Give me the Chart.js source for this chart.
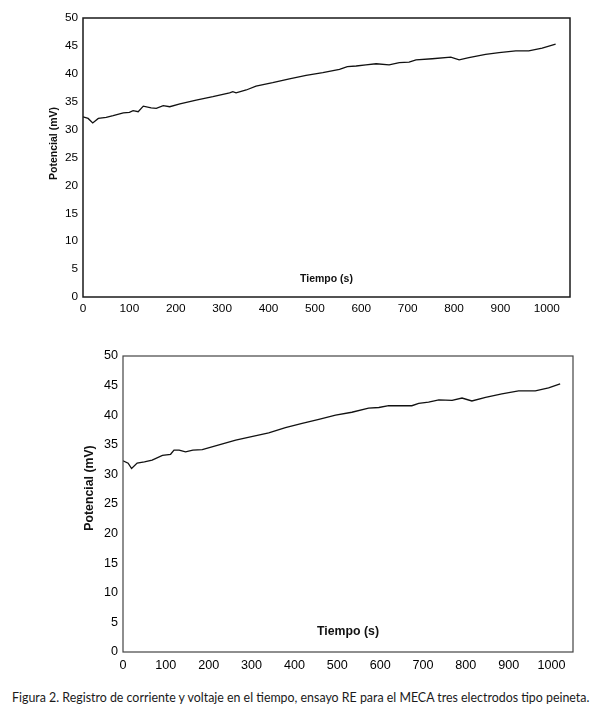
<!DOCTYPE html>
<html>
<head>
<meta charset="utf-8">
<script src="https://cdn.jsdelivr.net/npm/chart.js@4.4.1/dist/chart.umd.min.js"></script>
<style>
  body { margin: 0; background: #fff; width: 601px; height: 717px; position: relative; overflow: hidden; }
  canvas { position: absolute; left: 0; }
  #caption { position: absolute; left: 12px; top: 690px; font-family: Lato, "Open Sans", sans-serif; font-size: 12.4px; color: #1a1a1a; white-space: nowrap; }
</style>
</head>
<body>
<canvas id="chartTop" width="601" height="330" style="top:0"></canvas>
<canvas id="chartBottom" width="601" height="350" style="top:330px"></canvas>
<div id="caption">Figura 2. Registro de corriente y voltaje en el tiempo, ensayo RE para el MECA tres electrodos tipo peineta.</div>
<script>
// upper chart (s, mV)
const timeTop = [0, 11, 21, 33, 50, 65, 87, 100, 108, 119, 130, 147, 158, 173, 187, 209, 244, 280, 316, 323, 330, 352, 373, 409, 445, 481, 517, 553, 570, 589, 610, 632, 660, 682, 703, 718, 753, 793, 811, 832, 868, 897, 933, 961, 990, 1019]
const potTop = [32.3, 32.0, 31.2, 32.0, 32.2, 32.5, 33.0, 33.1, 33.4, 33.2, 34.2, 33.9, 33.8, 34.3, 34.1, 34.6, 35.3, 35.9, 36.6, 36.8, 36.6, 37.1, 37.8, 38.4, 39.1, 39.7, 40.2, 40.8, 41.3, 41.4, 41.6, 41.8, 41.6, 42.0, 42.1, 42.5, 42.7, 43.0, 42.5, 42.9, 43.5, 43.8, 44.1, 44.1, 44.6, 45.3]

// lower chart (s, mV)
const timeBottom = [0, 12, 20, 33, 50, 68, 92, 111, 119, 131, 146, 163, 185, 224, 263, 300, 340, 379, 418, 457, 496, 534, 573, 597, 620, 651, 674, 690, 713, 737, 768, 791, 814, 846, 884, 923, 962, 993, 1020]
const potBottom = [32.3, 31.9, 31.0, 31.9, 32.1, 32.4, 33.2, 33.4, 34.1, 34.1, 33.8, 34.1, 34.2, 35.0, 35.8, 36.4, 37.0, 37.9, 38.6, 39.3, 40.0, 40.5, 41.2, 41.3, 41.6, 41.6, 41.6, 42.0, 42.2, 42.6, 42.5, 42.9, 42.4, 43.0, 43.6, 44.1, 44.1, 44.6, 45.3]

const xTicks = [0, 100, 200, 300, 400, 500, 600, 700, 800, 900, 1000]
const xTitle = 'Tiempo (s)'
const yTitle = 'Potencial (mV)'

const framePlugin = {
    id: 'frame',
    afterDraw (chart, args, o) {
        const { ctx, chartArea: a } = chart
        ctx.save()
        ctx.strokeStyle = o.color
        ctx.lineWidth = o.width
        ctx.strokeRect(a.left, a.top, a.right - a.left, a.bottom - a.top)
        ctx.fillStyle = '#111'
        ctx.font = 'bold ' + o.titleSize + 'px "Liberation Sans", Arial, sans-serif'
        ctx.textAlign = 'center'
        ctx.textBaseline = 'middle'
        ctx.fillText(xTitle, (a.left + a.right) / 2, a.bottom - o.xTitleUp)
        ctx.translate(a.left - o.yTitleLeft, (a.top + a.bottom) / 2 - o.yTitleUp)
        ctx.rotate(-Math.PI / 2)
        ctx.fillText(yTitle, 0, 0)
        ctx.restore()
    }
}

function makeChart (id, times, values, s) {
    const font = { family: '"Liberation Sans", Arial, sans-serif', size: s.tickSize }
    return new Chart(document.getElementById(id), {
        type: 'line',
        data: {
            datasets: [{
                data: times.map((t, i) => ({ x: t, y: values[i] })),
                borderColor: '#111',
                borderWidth: 1.3,
                pointRadius: 0,
                tension: 0,
            }],
        },
        options: {
            responsive: false,
            animation: false,
            events: [],
            layout: { padding: { top: s.top, right: s.right, left: 0, bottom: 0 } },
            plugins: {
                legend: { display: false },
                tooltip: { enabled: false },
                frame: s.frame,
            },
            scales: {
                x: {
                    type: 'linear',
                    min: 0,
                    max: 1050,
                    grid: { display: false, drawTicks: false },
                    border: { display: false },
                    ticks: { color: '#000', font: font, padding: s.xPad, maxRotation: 0, callback: v => String(v) },
                    afterBuildTicks: sc => { sc.ticks = xTicks.map(v => ({ value: v })) },
                    afterFit: sc => { sc.height = s.xHeight },
                },
                y: {
                    min: 0,
                    max: 50,
                    grid: { display: false, drawTicks: false },
                    border: { display: false },
                    ticks: { color: '#000', font: font, stepSize: 5, padding: 5, callback: v => String(v) },
                    afterFit: sc => { sc.width = s.yWidth },
                },
            },
        },
        plugins: [framePlugin],
    })
}

makeChart('chartTop', timeTop, potTop, {
    tickSize: 11.8, top: 18, right: 31, yWidth: 83, xHeight: 33, xPad: 5,
    frame: { color: '#1a1a1a', width: 1.5, titleSize: 10.5, xTitleUp: 18, yTitleLeft: 29, yTitleUp: 14 },
})

makeChart('chartBottom', timeBottom, potBottom, {
    tickSize: 12.6, top: 26, right: 28, yWidth: 123, xHeight: 28, xPad: 6,
    frame: { color: '#444', width: 1.2, titleSize: 12.3, xTitleUp: 20, yTitleLeft: 33, yTitleUp: 16 },
})
</script>
</body>
</html>
